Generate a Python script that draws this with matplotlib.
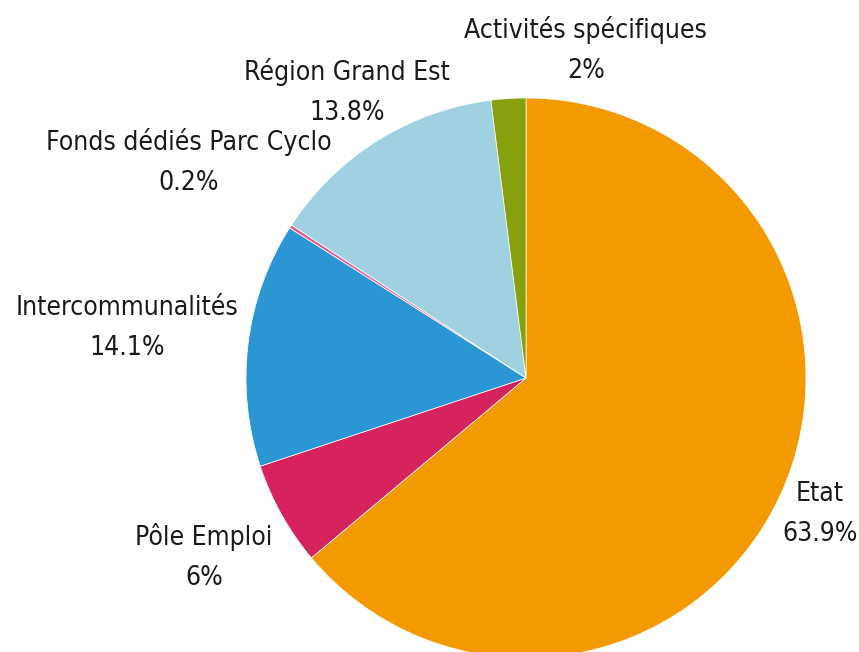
import matplotlib.pyplot as plt
from matplotlib import font_manager

# Data
labels = ["Etat", "Pôle Emploi", "Intercommunalités", "Fonds dédiés Parc Cyclo",
          "Région Grand Est", "Activités spécifiques"]
values = [63.9, 6, 14.1, 0.2, 13.8, 2]
colors = ["#F29A00", "#D6225D", "#2A97D4", "#E0609A", "#9FD1E0", "#86A00E"]

# label block centres in pie data coords (radius = 1)
label_pos = [(1.05, -0.486), (-1.15, -0.64), (-1.425, 0.179),
             (-1.204, 0.771), (-0.64, 1.02), (0.214, 1.171)]

# condensed font if there is one
files = [f.fname for f in font_manager.fontManager.ttflist]
cond = [f for f in files if "DejaVuSansCondensed.ttf" in f]
if cond:
    font_kw = dict(fontproperties=font_manager.FontProperties(fname=cond[0], size=19))
else:
    plt.rcParams["font.family"] = ["Roboto", "DejaVu Sans"]
    font_kw = dict(fontsize=19)

fig = plt.figure(figsize=(8.59, 6.52), dpi=100)
cx, cy, r = 526, 378, 280
ax = fig.add_axes([(cx - r) / 859, (652 - cy - r) / 652, 2 * r / 859, 2 * r / 652])

ax.pie(values, colors=colors, startangle=90, counterclock=False, radius=1,
       wedgeprops=dict(edgecolor="white", linewidth=0.5))
ax.set_xlim(-1, 1)
ax.set_ylim(-1, 1)
ax.set_aspect("equal")
ax.axis("off")

for lab, v, (x, y) in zip(labels, values, label_pos):
    ax.text(x, y, f"{lab}\n{v:g}%", ha="center", va="center",
            color="#1a1a1a", linespacing=1.7, clip_on=False, **font_kw)

fig.savefig("out.png", dpi=100)
